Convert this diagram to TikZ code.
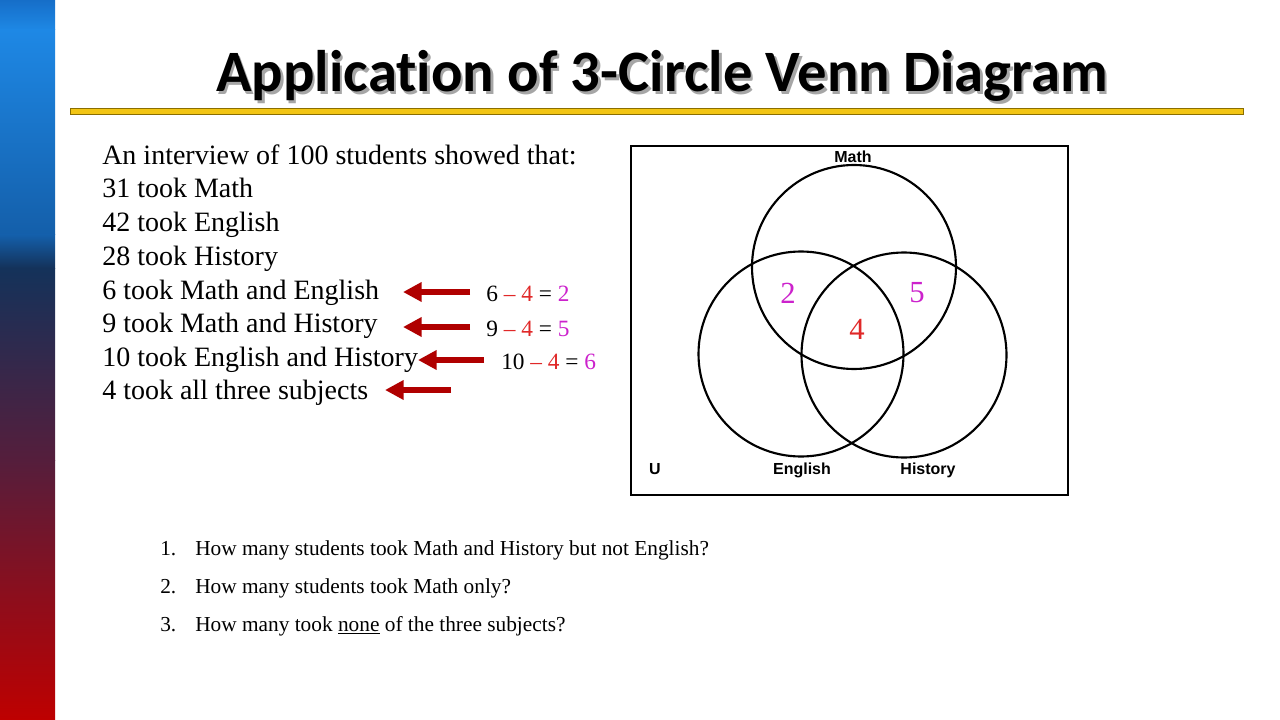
\documentclass[tikz,border=0pt]{standalone}
\usepackage{fontspec}
\setmainfont{Liberation Serif}
\newfontfamily\titlefont[Ligatures=NoCommon]{Carlito}
\newfontfamily\arialfont{Liberation Sans}
\usetikzlibrary{arrows.meta}
\definecolor{arrowred}{HTML}{B00000}
\definecolor{minusred}{HTML}{E02828}
\definecolor{magentanum}{HTML}{CC22CC}
\definecolor{goldline}{HTML}{F2C514}
\definecolor{goldedge}{HTML}{8A6E00}
\tikzset{
  body/.style={anchor=base west, inner sep=0pt, font=\fontsize{21}{25}\selectfont},
  eqn/.style={anchor=base west, inner sep=0pt, font=\fontsize{17.5}{21}\selectfont},
  qtext/.style={anchor=base west, inner sep=0pt, font=\fontsize{16}{19}\selectfont},
  redarrow/.style={draw=arrowred, line width=4.3pt, -{Triangle[length=14pt,width=14pt]}},
  venncircle/.style={draw=black, line width=1.6pt},
  setlabel/.style={inner sep=0pt, font=\arialfont\bfseries\fontsize{12}{14}\selectfont},
  regionnum/.style={inner sep=0pt, font=\fontsize{23}{27}\selectfont},
  titletext/.style={anchor=base, inner sep=0pt, font=\titlefont\bfseries\fontsize{44}{52}\selectfont},
}
\begin{document}
\begin{tikzpicture}[x=0.75pt,y=-0.75pt]
\useasboundingbox (0,0) rectangle (1280,720);
\fill[white] (0,0) rectangle (1280,720);
% left gradient bar
\shade[top color={rgb,255:red,22;green,110;blue,200}, bottom color={rgb,255:red,30;green,136;blue,229}] (0,0) rectangle (55,30);
\shade[top color={rgb,255:red,30;green,136;blue,229}, bottom color={rgb,255:red,20;green,95;blue,170}] (0,30) rectangle (55,235);
\shade[top color={rgb,255:red,20;green,95;blue,170}, bottom color={rgb,255:red,20;green,50;blue,90}] (0,235) rectangle (55,268);
\shade[top color={rgb,255:red,20;green,50;blue,90}, bottom color={rgb,255:red,85;green,30;blue,60}] (0,268) rectangle (55,460);
\shade[top color={rgb,255:red,85;green,30;blue,60}, bottom color={rgb,255:red,190;green,0;blue,0}] (0,460) rectangle (55,720);
% title with shadow
\node[titletext, text=black!35] at (664.5,94.5) {Application of 3-Circle Venn Diagram};
\node (title) [titletext] at (662,92) {Application of 3-Circle Venn Diagram};
% yellow rule
\draw[goldedge, fill=goldline, line width=0.6pt] (70,108) rectangle (1243,114);
% left text
\node (l1) [body] at (102,165) {An interview of 100 students showed that:};
\node (l2) [body] at (102,198) {31 took Math};
\node (l3) [body] at (102,232) {42 took English};
\node (l4) [body] at (102,265) {28 took History};
\node (l5) [body] at (102,299) {6 took Math and English};
\node (l6) [body] at (102,332) {9 took Math and History};
\node (l7) [body] at (102,366) {10 took English and History};
\node (l8) [body] at (102,399) {4 took all three subjects};
% equations
\node (e1) [eqn] at (486,301) {6 \textcolor{minusred}{– 4} = \textcolor{magentanum}{2}};
\node (e2) [eqn] at (486,336) {9 \textcolor{minusred}{– 4} = \textcolor{magentanum}{5}};
\node (e3) [eqn] at (501,369) {10 \textcolor{minusred}{– 4} = \textcolor{magentanum}{6}};
% arrows
\coordinate (a1s) at (470,292); \coordinate (a1e) at (403,292);
\coordinate (a2s) at (470,327); \coordinate (a2e) at (403,327);
\coordinate (a3s) at (484,360); \coordinate (a3e) at (418,360);
\coordinate (a4s) at (451,390); \coordinate (a4e) at (385,390);
\draw[redarrow] (a1s) -- (a1e);
\draw[redarrow] (a2s) -- (a2e);
\draw[redarrow] (a3s) -- (a3e);
\draw[redarrow] (a4s) -- (a4e);
% venn box
\draw[line width=2pt] (631,146) rectangle (1068,495);
\draw[venncircle] (854,267) circle (102);
\draw[venncircle] (801,354) circle (102.5);
\draw[venncircle] (904,355) circle (102.5);
\node (math) [setlabel] at (853,157) {Math};
\node (eng) [setlabel] at (802,470) {English};
\node (hist) [setlabel] at (928,470) {History};
\node (u) [setlabel] at (655,469) {U};
\node (n2) [regionnum, text=magentanum] at (788,293) {2};
\node (n5) [regionnum, text=magentanum] at (917,293) {5};
\node (n4) [regionnum, text=minusred] at (857,329) {4};
% questions
\node (q1n) [qtext] at (160,555) {1.};
\node (q1) [qtext] at (195,555) {How many students took Math and History but not English?};
\node (q2n) [qtext] at (160,593) {2.};
\node (q2) [qtext] at (195,593) {How many students took Math only?};
\node (q3n) [qtext] at (160,631) {3.};
\node (q3) [qtext] at (195,631) {How many took \underline{none} of the three subjects?};
\end{tikzpicture}
\end{document}
